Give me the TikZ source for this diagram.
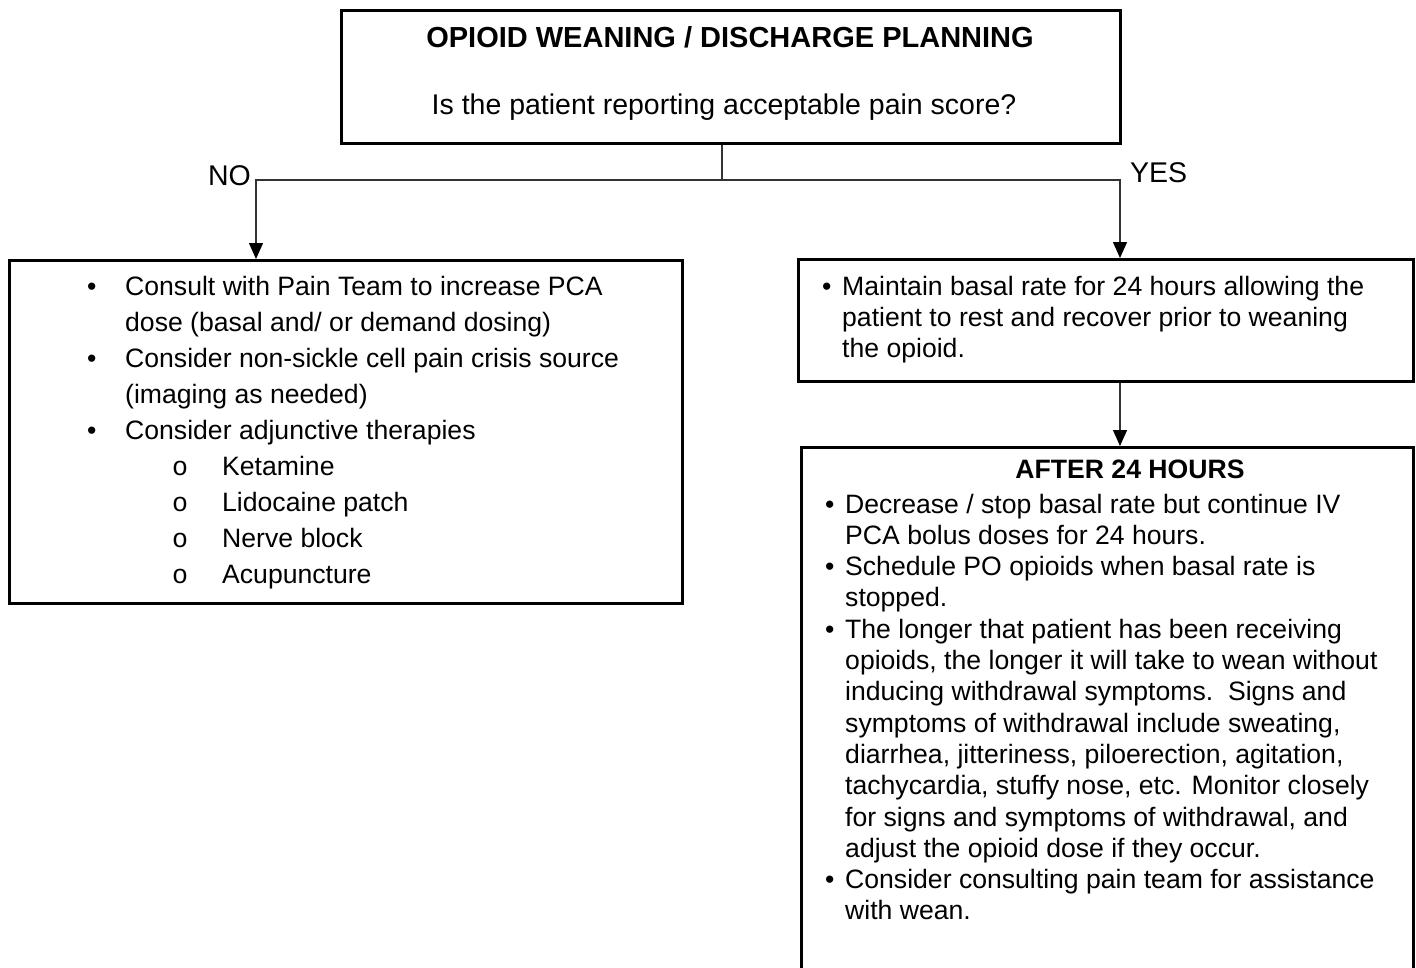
\documentclass[tikz,border=0pt]{standalone}
\usepackage{fontspec}
\setmainfont{Liberation Sans}
\newfontfamily\subbulletfont{Liberation Mono}
\usetikzlibrary{arrows.meta}

% bullets with fixed hanging indents
\newcommand\mainitem[1]{\makebox[#1][l]{\textbullet}}
\newcommand\subitemmark{\hspace{85pt}\makebox[50pt][l]{\subbulletfont o}}

\begin{document}
\begin{tikzpicture}[x=1pt,y=-1pt,
  box/.style={draw=black, line width=2.6pt, rectangle, inner sep=0pt, anchor=north west},
  link/.style={draw=black!80, line width=1.3pt},
  arrow/.style={link, -{Triangle[length=16pt,width=14pt,fill=black,color=black]}},
  bigtext/.style={inner sep=0pt, font=\fontsize{28.5}{34}\selectfont},
  bodytext/.style={inner sep=0pt, anchor=base west, font=\fontsize{26.6}{31.3}\selectfont},
  widetext/.style={inner sep=0pt, anchor=base west, font=\fontsize{26.6}{36}\selectfont},
]
\useasboundingbox (0,0) rectangle (1416,967);
\clip (0,0) rectangle (1416,967);

% boxes
\node[box, minimum width=779pt, minimum height=133pt] (question) at (340,9) {};
\node[box, minimum width=673pt, minimum height=343pt] (nobox) at (8,259) {};
\node[box, minimum width=615pt, minimum height=122pt] (yesbox) at (797,258) {};
\node[box, minimum width=612pt, minimum height=600pt] (afterbox) at (800,446) {};

% question box
\node[bigtext, font=\bfseries\fontsize{29}{34}\selectfont, anchor=base] (qtitle) at (730,47)
  {OPIOID WEANING / DISCHARGE PLANNING};
\node[bigtext, anchor=base] (qtext) at (724,114)
  {Is the patient reporting acceptable pain score?};

% branch labels
\node[bigtext, anchor=base east] (nolabel) at (251,185) {NO};
\node[bigtext, anchor=base west] (yeslabel) at (1130,182) {YES};

% NO branch
\node[widetext] (notext) at (87,295) {\begin{tabular}[t]{@{}l@{}}
\mainitem{38pt}Consult with Pain Team to increase PCA\\
\hspace{38pt}dose (basal and/ or demand dosing)\\
\mainitem{38pt}Consider non-sickle cell pain crisis source\\
\hspace{38pt}(imaging as needed)\\
\mainitem{38pt}Consider adjunctive therapies\\
\subitemmark Ketamine\\
\subitemmark Lidocaine patch\\
\subitemmark Nerve block\\
\subitemmark Acupuncture
\end{tabular}};

% YES branch
\node[bodytext] (yestext) at (822,295) {\begin{tabular}[t]{@{}l@{}}
\mainitem{20pt}Maintain basal rate for 24 hours allowing the\\
\hspace{20pt}patient to rest and recover prior to weaning\\
\hspace{20pt}the opioid.
\end{tabular}};

% after 24 hours
\node[inner sep=0pt, anchor=base, font=\bfseries\fontsize{26.6}{31.3}\selectfont] (aftertitle) at (1130,478) {AFTER 24 HOURS};
\node[bodytext] (aftertext) at (825,513) {\begin{tabular}[t]{@{}l@{}}
\mainitem{20pt}Decrease / stop basal rate but continue IV\\
\hspace{20pt}PCA bolus doses for 24 hours.\\
\mainitem{20pt}Schedule PO opioids when basal rate is\\
\hspace{20pt}stopped.\\
\mainitem{20pt}The longer that patient has been receiving\\
\hspace{20pt}opioids, the longer it will take to wean without\\
\hspace{20pt}inducing withdrawal symptoms.\ \ Signs and\\
\hspace{20pt}symptoms of withdrawal include sweating,\\
\hspace{20pt}diarrhea, jitteriness, piloerection, agitation,\\
\hspace{20pt}tachycardia, stuffy nose, etc. Monitor closely\\
\hspace{20pt}for signs and symptoms of withdrawal, and\\
\hspace{20pt}adjust the opioid dose if they occur.\\
\mainitem{20pt}Consider consulting pain team for assistance\\
\hspace{20pt}with wean.
\end{tabular}};

% connectors
\coordinate (split) at (722,180);
\coordinate (noturn) at (256,180);
\coordinate (yesturn) at (1120,180);
\draw[link] (split |- question.south) -- (split);
\draw[arrow] (split) -- (noturn) -- (noturn |- nobox.north);
\draw[arrow] (split) -- (yesturn) -- (yesturn |- yesbox.north);
\draw[arrow] (yesturn |- yesbox.south) -- (yesturn |- afterbox.north);
\end{tikzpicture}
\end{document}
